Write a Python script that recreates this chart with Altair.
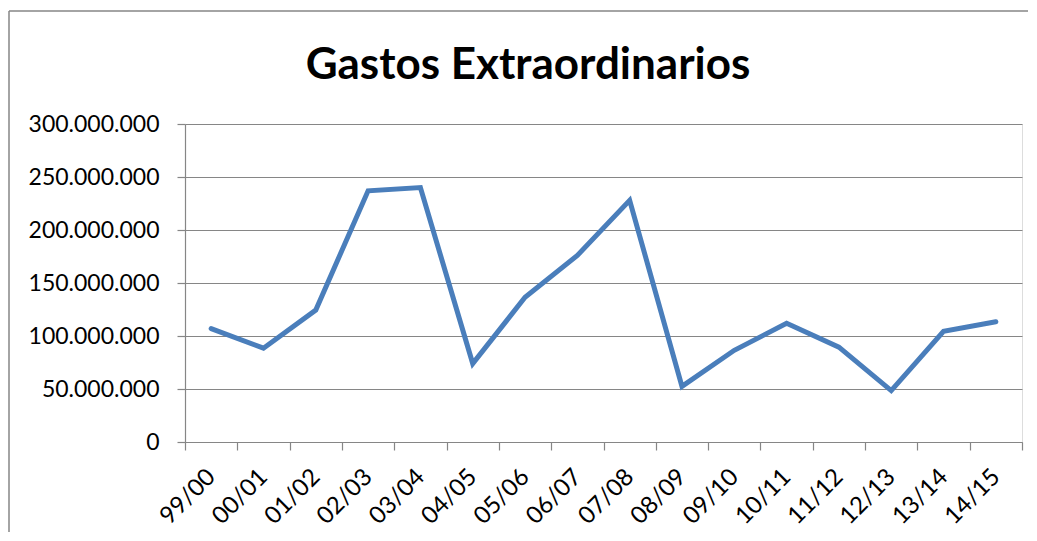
import altair as alt
import pandas as pd

seasons = ["99/00", "00/01", "01/02", "02/03", "03/04", "04/05", "05/06", "06/07",
           "07/08", "08/09", "09/10", "10/11", "11/12", "12/13", "13/14", "14/15"]
gastos = [107000000, 88500000, 124500000, 237000000, 240000000, 74000000, 136500000, 176000000,
          228000000, 52500000, 86500000, 112000000, 89500000, 48500000, 104500000, 113500000]
y_ticks = [0, 50000000, 100000000, 150000000, 200000000, 250000000, 300000000]
title_text = ["Gastos Extraordinarios"]

df = pd.DataFrame({"temporada": seasons, "gastos": gastos})

W, H = 837, 318
PL, PT, PR, PB = 177, 116, 6, 90
GRAY = "#868686"
FONT = "Lato"

line = alt.Chart(df).mark_line(
    color="#4A7EBB", strokeWidth=5, strokeCap="round", strokeJoin="miter"
).encode(
    x=alt.X("temporada:N", sort=seasons, title=None,
            scale=alt.Scale(paddingInner=0, paddingOuter=0),
            axis=alt.Axis(labelAngle=-45, labelAlign="right", labelBaseline="middle",
                          labelFontSize=24, labelFont=FONT, labelColor="#000000",
                          labelPadding=23, tickBand="extent", tickSize=8,
                          tickColor=GRAY, domainColor=GRAY, domainWidth=1.2,
                          tickWidth=1.2, grid=False)),
    y=alt.Y("gastos:Q", title=None,
            scale=alt.Scale(domain=[0, 300000000], nice=False),
            axis=alt.Axis(values=y_ticks,
                          labelExpr="replace(format(datum.value, ',d'), /,/g, '.')",
                          labelFontSize=23, labelFont=FONT, labelColor="#000000",
                          labelPadding=18, tickSize=8, tickColor=GRAY, tickWidth=1.2,
                          domainColor=GRAY, domainWidth=1.2,
                          grid=True, gridColor=GRAY, gridWidth=1.2)),
)

frame_df = pd.DataFrame({"k": [0]})
left_border = alt.Chart(frame_df).mark_rule(color=GRAY, strokeWidth=1.5).encode(
    x=alt.value(-PL + 1), y=alt.value(-PT + 3), y2=alt.value(H + PB)
)
top_border = alt.Chart(frame_df).mark_rule(color=GRAY, strokeWidth=1.5).encode(
    x=alt.value(-PL + 1), x2=alt.value(W + PR), y=alt.value(-PT + 3)
)

title = alt.Chart(pd.DataFrame({"t": title_text})).mark_text(
    font=FONT, fontSize=44, fontWeight="bold", color="#000000",
    align="center", baseline="alphabetic"
).encode(
    text="t:N", x=alt.value(343), y=alt.value(-45)
)

chart = alt.layer(left_border, top_border, title, line).properties(
    width=W, height=H,
    padding={"left": PL, "top": PT, "right": PR, "bottom": PB},
    autosize=alt.AutoSizeParams(type="none"),
).configure_view(stroke=None).configure(background="white")

chart.save("out.html", embed_options={"renderer": "svg", "actions": False})
